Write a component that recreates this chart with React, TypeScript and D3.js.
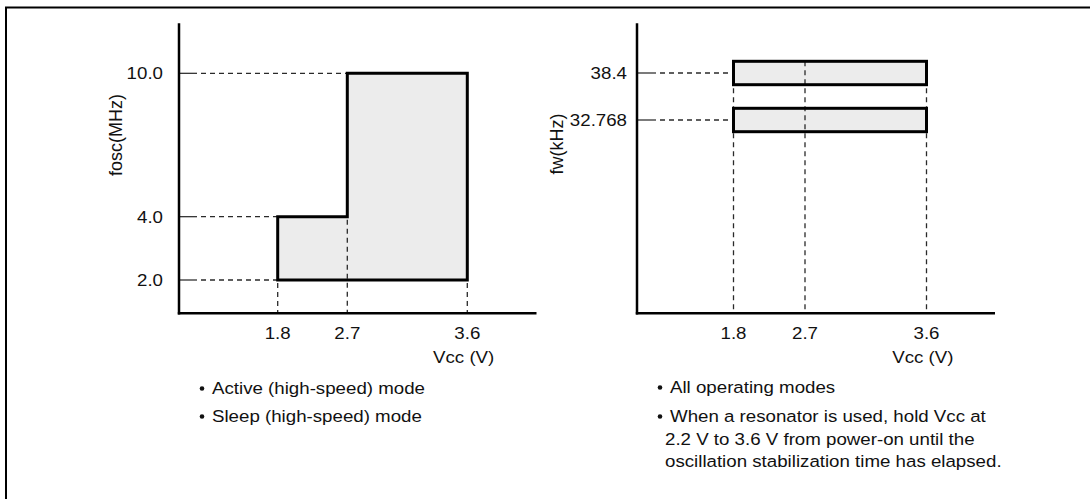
import React from "react";
import * as d3 from "d3";

// ---- data ----
const xTickValues = [1.8, 2.7, 3.6];
const xTickLabels = ["1.8", "2.7", "3.6"];

const leftYTickValues = [10.0, 4.0, 2.0];
const leftYTickLabels = ["10.0", "4.0", "2.0"];
// operating region outline: [Vcc, fosc]
const leftRegionVcc = [1.8, 1.8, 2.7, 2.7, 3.6, 3.6];
const leftRegionFreq = [2.0, 4.0, 4.0, 10.0, 10.0, 2.0];

const rightYTickValues = [38.4, 32.768];
const rightYTickLabels = ["38.4", "32.768"];
const rightBandFreq = [38.4, 32.768];
const rightBandVccMin = [1.8, 1.8];
const rightBandVccMax = [3.6, 3.6];

const leftTitle = "fosc(MHz)";
const rightTitle = "fw(kHz)";
const xTitle = "Vcc (V)";
const leftNotes = [["Active (high-speed) mode"], ["Sleep (high-speed) mode"]];
const rightNotes = [
  ["All operating modes"],
  [
    "When a resonator is used, hold Vcc at",
    "2.2 V to 3.6 V from power-on until the",
    "oscillation stabilization time has elapsed.",
  ],
];

// ---- layout ----
const W = 1090;
const H = 499;
const FONT = "'Liberation Sans', Arial, Helvetica, sans-serif";
const SX = 1.1;
const axisTop = 23.3;
const axisY = 313.3;
const fill = "#ececec";
const dashColor = "#2a2a2a";

type PanelCfg = {
  axisX: number;
  axisEnd: number;
  x: d3.ScaleLinear<number, number>;
  y: d3.ScaleLinear<number, number>;
};

const leftCfg: PanelCfg = {
  axisX: 179,
  axisEnd: 536.5,
  x: d3.scaleLinear().domain(xTickValues).range([277.7, 347.3, 467.3]),
  y: d3.scaleLinear().domain([2, 4, 10]).range([280, 216.7, 73.3]),
};
const rightCfg: PanelCfg = {
  axisX: 637,
  axisEnd: 995,
  x: d3.scaleLinear().domain(xTickValues).range([733.5, 805, 926.5]),
  y: d3.scaleLinear().domain([32.768, 38.4]).range([120, 73]),
};

function T(props: {
  x: number;
  y: number;
  anchor?: string;
  size?: number;
  children: React.ReactNode;
}) {
  const { x, y, anchor = "start", size = 17, children } = props;
  return (
    <text
      transform={`translate(${x},${y}) scale(${SX},1)`}
      textAnchor={anchor}
      fontFamily={FONT}
      fontSize={size}
      fill="#111"
    >
      {children}
    </text>
  );
}

function Axes({ cfg }: { cfg: PanelCfg }) {
  return (
    <g>
      <line x1={cfg.axisX} x2={cfg.axisX} y1={axisTop} y2={axisY + 1.2} stroke="#000" strokeWidth={2.5} />
      <line x1={cfg.axisX - 1.2} x2={cfg.axisEnd} y1={axisY} y2={axisY} stroke="#000" strokeWidth={2.5} />
      {xTickValues.map((v, i) => (
        <T key={i} x={cfg.x(v)} y={339} anchor="middle">
          {xTickLabels[i]}
        </T>
      ))}
      <T x={cfg.x(3.6) + 27} y={363} anchor="end">
        {xTitle}
      </T>
    </g>
  );
}

function Notes({ notes, x, baselines }: { notes: string[][]; x: number; baselines: number[][] }) {
  return (
    <g>
      {notes.map((lines, i) => (
        <g key={i}>
          <circle cx={x} cy={baselines[i][0] - 5.5} r={2.3} fill="#111" />
          {lines.map((ln, j) => (
            <T key={j} x={j === 0 ? x + 10 : x + 5} y={baselines[i][j]}>
              {ln}
            </T>
          ))}
        </g>
      ))}
    </g>
  );
}

function LeftPanel() {
  const c = leftCfg;
  const pts: [number, number][] = leftRegionVcc.map((v, i) => [c.x(v), c.y(leftRegionFreq[i])]);
  const path = d3.line()(pts) + "Z";
  const tickEnd = c.axisX + 18;
  const hTargets = [2.7, 1.8, 1.8];
  const vStarts = [2.0, 4.0, 2.0];
  return (
    <g>
      <path d={path} fill={fill} stroke="none" />
      {leftYTickValues.map((v, i) => (
        <g key={i}>
          <line x1={c.axisX} x2={tickEnd} y1={c.y(v)} y2={c.y(v)} stroke="#222" strokeWidth={1.2} />
          <line
            x1={tickEnd + 4}
            x2={c.x(hTargets[i])}
            y1={c.y(v)}
            y2={c.y(v)}
            stroke={dashColor}
            strokeWidth={1.3}
            strokeDasharray="5,4"
          />
          <T x={c.axisX - 16} y={c.y(v) + 6} anchor="end">
            {leftYTickLabels[i]}
          </T>
        </g>
      ))}
      {xTickValues.map((v, i) => (
        <line
          key={i}
          x1={c.x(v)}
          x2={c.x(v)}
          y1={c.y(vStarts[i]) + 3}
          y2={axisY}
          stroke={dashColor}
          strokeWidth={1.3}
          strokeDasharray="5,4"
        />
      ))}
      <path d={path} fill="none" stroke="#000" strokeWidth={3} strokeLinejoin="miter" />
      <Axes cfg={c} />
      <text
        transform={`translate(122,135) rotate(-90)`}
        textAnchor="middle"
        fontFamily={FONT}
        fontSize={18}
        fill="#111"
      >
        {leftTitle}
      </text>
      <Notes notes={leftNotes} x={202} baselines={[[394], [422]]} />
    </g>
  );
}

function RightPanel() {
  const c = rightCfg;
  const half = 11.7;
  const tickEnd = c.axisX + 19;
  return (
    <g>
      {rightBandFreq.map((f, i) => (
        <rect
          key={i}
          x={c.x(rightBandVccMin[i])}
          y={c.y(f) - half}
          width={c.x(rightBandVccMax[i]) - c.x(rightBandVccMin[i])}
          height={half * 2}
          fill={fill}
        />
      ))}
      {rightYTickValues.map((v, i) => (
        <g key={i}>
          <line x1={c.axisX} x2={tickEnd} y1={c.y(v)} y2={c.y(v)} stroke="#222" strokeWidth={1.2} />
          <line
            x1={tickEnd + 4}
            x2={c.x(1.8)}
            y1={c.y(v)}
            y2={c.y(v)}
            stroke={dashColor}
            strokeWidth={1.3}
            strokeDasharray="5,4"
          />
          <T x={c.axisX - 10} y={c.y(v) + 6} anchor="end">
            {rightYTickLabels[i]}
          </T>
        </g>
      ))}
      {xTickValues.map((v, i) => (
        <line
          key={i}
          x1={c.x(v)}
          x2={c.x(v)}
          y1={c.y(38.4) - half}
          y2={axisY}
          stroke={dashColor}
          strokeWidth={1.3}
          strokeDasharray="5,4"
        />
      ))}
      {rightBandFreq.map((f, i) => (
        <rect
          key={i}
          x={c.x(rightBandVccMin[i])}
          y={c.y(f) - half}
          width={c.x(rightBandVccMax[i]) - c.x(rightBandVccMin[i])}
          height={half * 2}
          fill="none"
          stroke="#000"
          strokeWidth={3}
        />
      ))}
      <Axes cfg={c} />
      <text
        transform={`translate(563,144) rotate(-90)`}
        textAnchor="middle"
        fontFamily={FONT}
        fontSize={18}
        fill="#111"
      >
        {rightTitle}
      </text>
      <Notes notes={rightNotes} x={660} baselines={[[393], [422, 444.5, 467]]} />
    </g>
  );
}

export default function App() {
  return (
    <svg
      width={W}
      height={H}
      style={{ position: "absolute", left: 0, top: 0, background: "#fff" }}
    >
      <rect x={0} y={0} width={W} height={H} fill="#fff" />
      <rect x={6} y={7.5} width={W + 20} height={H + 20} fill="none" stroke="#000" strokeWidth={2} />
      <LeftPanel />
      <RightPanel />
    </svg>
  );
}
